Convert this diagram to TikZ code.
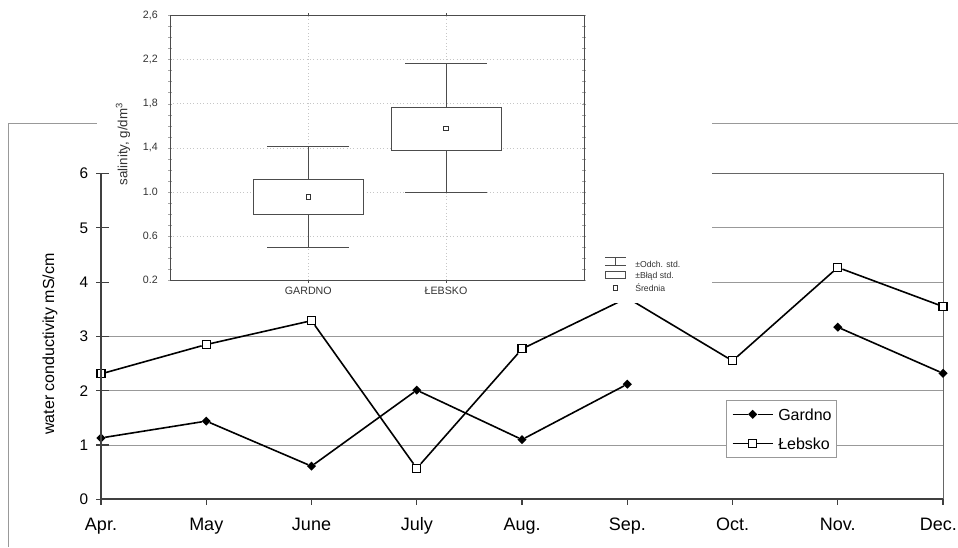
\documentclass[tikz,border=0pt]{standalone}
\usepackage{fontspec}
\setmainfont{Liberation Sans}
\usetikzlibrary{positioning,shapes.geometric}

\tikzset{
  mainframe/.style={shift={(101,499.3)},x=78.94pt,y=40.725pt},
  insetframe/.style={shift={(170,302)},x=0.75pt,y=82.59pt},
  gridline/.style={gray!80,line width=0.7pt},
  axisline/.style={black!75,line width=1.3pt},
  series/.style={black,line width=1.2pt},
  gardnomark/.style={diamond,fill=black,inner sep=0pt,minimum size=7pt},
  lebskomark/.style={rectangle,draw=black,fill=white,line width=0.9pt,inner sep=0pt,minimum size=6pt},
  boxline/.style={black!70,line width=0.6pt},
  dotgrid/.style={gray!45,dotted,line width=0.5pt},
  meanmark/.style={rectangle,draw=black!80,fill=white,line width=0.6pt,inner sep=0pt,minimum size=3.5pt},
}

\begin{document}
\begin{tikzpicture}[x=0.75pt,y=-0.75pt]
  \useasboundingbox (0,0) rectangle (958,547);
  % outer frame
  \draw[gray!80,line width=0.8pt] (8.5,547) -- (8.5,123.5) -- (958,123.5);

  % conductivity chart, grid and data
  \begin{scope}[mainframe]
    \foreach \v in {1,...,5}
      \draw[gridline] (0,\v) -- (8,\v);
    \draw[gridline,black!60] (0,6) -- (8,6) -- (8,0);
    \foreach \i/\v in {0/2.31,1/2.85,2/3.29,3/0.57,4/2.77,5/3.71,6/2.55,7/4.27,8/3.55}
      \node[lebskomark] (l\i) at (\i,\v) {};
    \foreach \i/\v in {0/1.13,1/1.44,2/0.61,3/2.01,4/1.10,5/2.12,7/3.17,8/2.32}
      \node[gardnomark] (g\i) at (\i,\v) {};
    \draw[series] (l0) -- (l1) -- (l2) -- (l3) -- (l4) -- (l5) -- (l6) -- (l7) -- (l8);
    \draw[series] (g0) -- (g1) -- (g2) -- (g3) -- (g4) -- (g5);
    \draw[series] (g7) -- (g8);
  \end{scope}

  % legend
  \draw[gray!80,fill=white,line width=0.7pt] (726.7,400.7) rectangle (836.7,457.3);
  \node[gardnomark] (legG) at (752.7,414.3) {};
  \coordinate (legGl) at (732.7,414.3);
  \coordinate (legGr) at (772.7,414.3);
  \draw[series] (legGl) -- (legG) -- (legGr);
  \node[anchor=west,inner sep=0pt,font=\fontsize{12}{14}\selectfont] (legGt) at (778,414.3) {Gardno};
  \node[lebskomark] (legL) at (752.7,443.3) {};
  \coordinate (legLl) at (732.7,443.3);
  \coordinate (legLr) at (772.7,443.3);
  \draw[series] (legLl) -- (legL) -- (legLr);
  \node[anchor=west,inner sep=0pt,font=\fontsize{12}{14}\selectfont] (legLt) at (778,443.3) {Łebsko};

  % inset background
  \fill[white] (97,0) rectangle (712,303);

  % conductivity chart, axes and labels
  \begin{scope}[mainframe]
    \draw[axisline] (0,6) -- (0,0) -- (8,0);
    \foreach \v in {0,...,6} {
      \draw[black!75,line width=0.8pt] ([xshift=-3.75pt]0,\v) -- ([xshift=6pt]0,\v);
      \node[anchor=east,inner sep=0pt,font=\fontsize{11.5}{13}\selectfont] (yt\v) at ([xshift=-9.5pt]0,\v) {\v};
    }
    \foreach \i/\m/\dx in {0/Apr./0,1/May/0,2/June/0,3/July/0,4/Aug./0,5/Sep./0,6/Oct./0,7/Nov./0,8/Dec./-3.5} {
      \draw[black!75,line width=0.8pt] (\i,0) -- ([yshift=-4.5pt]\i,0);
      \node[anchor=base,inner sep=0pt,font=\fontsize{13.5}{16}\selectfont] (m\i) at ([xshift=\dx pt]\i,-0.58) {\m};
    }
    \node[rotate=90,font=\fontsize{12}{14}\selectfont] (ytitle) at (-0.485,2.86) {water conductivity mS/cm};
  \end{scope}

  % salinity inset
  \begin{scope}[insetframe]
    \foreach \v in {0.6,1.0,1.4,1.8,2.2}
      \draw[dotgrid] (0,\v) -- (414,\v);
    \draw[dotgrid] (138.3,0.2) -- (138.3,2.6);
    \draw[dotgrid] (276,0.2) -- (276,2.6);
    \foreach \v in {0.2,0.3,...,2.65} {
      \draw[gray!70,line width=0.4pt] ([xshift=-1.2pt]0,\v) -- ([xshift=1.2pt]0,\v);
      \draw[gray!70,line width=0.4pt] ([xshift=-1.2pt]414,\v) -- ([xshift=1.2pt]414,\v);
    }
    \draw[boxline] (0,0.2) rectangle (414,2.6);
    \foreach \cx in {138.3,276} {
      \draw[boxline] (\cx,0.2) -- ([yshift=-2pt]\cx,0.2);
      \draw[boxline] (\cx,2.6) -- ([yshift=2pt]\cx,2.6);
    }
    \foreach \cx/\wl/\bl/\bh/\wh/\mn in {138.3/0.499/0.796/1.111/1.410/0.956,276/0.993/1.380/1.771/2.164/1.577} {
      \draw[boxline] (\cx-41,\wl) -- (\cx+41,\wl);
      \draw[boxline] (\cx,\wl) -- (\cx,\bl);
      \draw[boxline] (\cx,\bh) -- (\cx,\wh);
      \draw[boxline] (\cx-41,\wh) -- (\cx+41,\wh);
      \draw[boxline,fill=white] (\cx-55,\bl) rectangle (\cx+55,\bh);
      \node[meanmark] at (\cx,\mn) {};
    }
    \foreach \v/\t in {0.2/0.2,0.6/0.6,1.0/1.0,1.4/{1,4},1.8/{1,8},2.2/{2,2},2.6/{2,6}}
      \node[anchor=east,inner sep=0pt,font=\fontsize{8}{10}\selectfont,text=black!80] at (-12,\v) {\t};
    \node[font=\fontsize{8}{10}\selectfont,text=black!80] (catG) at (138.3,0.1) {GARDNO};
    \node[font=\fontsize{8}{10}\selectfont,text=black!80] (catL) at (276,0.1) {ŁEBSKO};
    \node[rotate=90,font=\fontsize{10}{12}\selectfont,text=black!80] (stitle) at (-47,1.435) {salinity, g/dm\textsuperscript{3}};
  \end{scope}

  % inset legend
  \draw[boxline] (605,257.5) -- (625.7,257.5);
  \draw[boxline] (615.3,257.5) -- (615.3,265.5);
  \draw[boxline] (605,265.5) -- (625.7,265.5);
  \draw[boxline] (605,271.5) rectangle (625.7,278);
  \node[meanmark] (legMean) at (615.3,288) {};
  \node[anchor=west,inner sep=0pt,font=\fontsize{6.5}{8}\selectfont,text=black!80] at (635,264.5) {±Odch. std.};
  \node[anchor=west,inner sep=0pt,font=\fontsize{6.5}{8}\selectfont,text=black!80] at (635,276) {±Błąd std.};
  \node[anchor=west,inner sep=0pt,font=\fontsize{6.5}{8}\selectfont,text=black!80] at (635,288) {Średnia};
\end{tikzpicture}
\end{document}
